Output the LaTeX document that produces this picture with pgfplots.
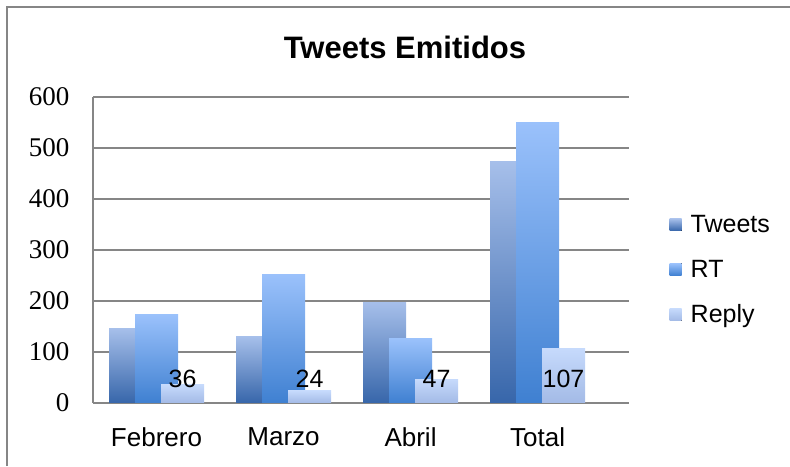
\documentclass[border=0pt]{standalone}
\usepackage{pgfplots}
\pgfplotsset{compat=1.18}
\usepackage{fontspec}
\setmainfont{Liberation Sans}
\newfontfamily\serifnum{Liberation Serif}
\definecolor{gridc}{HTML}{868686}
\definecolor{twTop}{HTML}{A6BFEA}
\definecolor{twBot}{HTML}{3766AA}
\definecolor{rtTop}{HTML}{9AC1FB}
\definecolor{rtBot}{HTML}{3F80D1}
\definecolor{reTop}{HTML}{C6DAFC}
\definecolor{reBot}{HTML}{A3BAE6}
\pgfplotsset{
  tw/.style={ybar, bar width=43pt, bar shift=-26pt, draw=none, top color=twTop, bottom color=twBot},
  rt/.style={ybar, bar width=43pt, bar shift=0pt, draw=none, top color=rtTop, bottom color=rtBot},
  re/.style={ybar, bar width=43pt, bar shift=26pt, draw=none, top color=reTop, bottom color=reBot},
}
\begin{document}
\begin{tikzpicture}[x=1pt,y=1pt]
\useasboundingbox (0,0) rectangle (790,466);
\draw[gridc, line width=1.5pt] (7,0) -- (7,459) -- (790,459);
\node[font=\fontsize{31}{36}\selectfont\bfseries] at (405,419) {Tweets Emitidos};
\begin{axis}[
  at={(93pt,63pt)}, anchor=south west, scale only axis,
  width=536pt, height=306pt,
  xmin=-0.5, xmax=3.72, ymin=0, ymax=600,
  xtick={0,1,2,3}, xticklabels={Febrero,Marzo,Abril,Total},
  ytick={0,100,...,600},
  axis lines*=left,
  axis line style={gridc, line width=1.3pt},
  ymajorgrids, grid style={gridc, line width=1.3pt},
  major tick length=0pt,
  /pgf/number format/assume math mode=true,
  yticklabel style={font=\fontsize{27}{30}\selectfont\serifnum, xshift=-20pt},
  xticklabel style={font=\fontsize{26}{30}\selectfont, yshift=-21pt},
  legend style={at={(rel axis cs:1.07,0.435)}, anchor=west, draw=none, fill=none,
    font=\fontsize{25}{28}\selectfont, row sep=22pt},
  legend cell align=left,
  legend image code/.code={\fill[#1] (0pt,-6pt) rectangle (12pt,6pt); \path (19pt,0pt);},
]
% Tweets
\addplot[tw] coordinates {(0,146)};
\addplot[tw, forget plot] coordinates {(1,130)};
\addplot[tw, forget plot] coordinates {(2,198)};
\addplot[tw, forget plot] coordinates {(3,474)};
% RT
\addplot[rt] coordinates {(0,173)};
\addplot[rt, forget plot] coordinates {(1,251)};
\addplot[rt, forget plot] coordinates {(2,126)};
\addplot[rt, forget plot] coordinates {(3,550)};
% Reply
\addplot[re] coordinates {(0,36)};
\addplot[re, forget plot] coordinates {(1,24)};
\addplot[re, forget plot] coordinates {(2,47)};
\addplot[re, forget plot] coordinates {(3,107)};
% Reply data labels
\addplot[draw=none, mark=none, forget plot, nodes near coords, point meta=explicit symbolic,
  every node near coord/.style={anchor=center, xshift=26pt, font=\fontsize{25}{28}\selectfont}]
  coordinates {(0,47)[36] (1,47)[24] (2,47)[47] (3,47)[107]};
\legend{Tweets,RT,Reply}
\end{axis}
\end{tikzpicture}
\end{document}
